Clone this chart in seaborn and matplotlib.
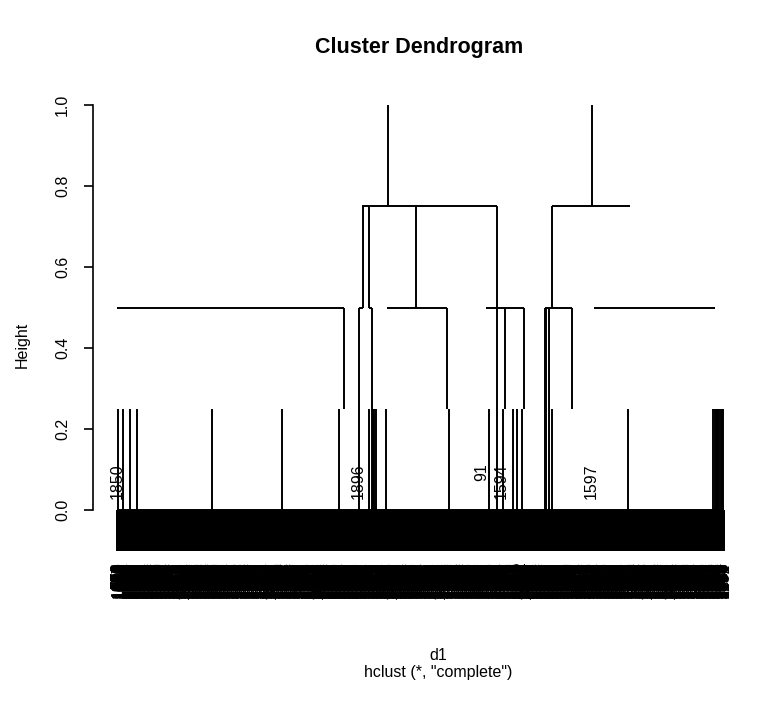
import numpy as np
import pandas as pd
import matplotlib
matplotlib.use("Agg")
import matplotlib.pyplot as plt
import seaborn as sns

# ---- tree data (x = position in leaf order, heights of merges) ----
n_leaves = 2000
hang = 0.1

# stems (vertical links) grouped by the heights they connect
stems_025_to_0 = [5, 20, 44, 66, 313, 545, 731, 832, 844, 849, 854, 886,
                  1095, 1226, 1271, 1304, 1317, 1334, 1435, 1683,
                  1965, 1969, 1973, 1977, 1981, 1985, 1989, 1993, 1996]
stems_05_to_025 = [749, 1087, 1280, 1342, 1498]
stems_05_to_0 = [799, 840, 1410, 1414, 1424]
stems_075_to_0 = [1251]
stems_075_to_05 = [810, 832, 987, 1434]
stems_1_to_075 = [894, 1566]

# cross-bars (horizontal links): left, right, merge height
bar_left = [807, 1435, 2, 799, 832, 891, 1216, 1412, 1572]
bar_right = [1251, 1690, 749, 810, 840, 1087, 1342, 1498, 1970]
bar_height = [0.75, 0.75, 0.5, 0.5, 0.5, 0.5, 0.5, 0.5, 0.5]

# singleton leaves joined at 0.25, labelled inside the plot
single_pos = [3, 795, 1203, 1268, 1564]
single_ids = ["1850", "1896", "91", "1594", "1597"]

y_ticks = [0.0, 0.2, 0.4, 0.6, 0.8, 1.0]
y_tick_labels = ["0.0", "0.2", "0.4", "0.6", "0.8", "1.0"]

title = "Cluster Dendrogram"
x_label = "d1"
sub_label = 'hclust (*, "complete")'

# observation ids in leaf order
leaf_ids = (np.arange(n_leaves) * 769) % n_leaves + 1
for p, s in zip(single_pos, single_ids):
    j = int(np.where(leaf_ids == int(s))[0][0])
    leaf_ids[j], leaf_ids[p - 1] = leaf_ids[p - 1], leaf_ids[j]

stems = pd.DataFrame(
    [(x, 0.25, 0.0) for x in stems_025_to_0]
    + [(x, 0.5, 0.25) for x in stems_05_to_025]
    + [(x, 0.5, 0.0) for x in stems_05_to_0]
    + [(x, 0.75, 0.0) for x in stems_075_to_0]
    + [(x, 0.75, 0.5) for x in stems_075_to_05]
    + [(x, 1.0, 0.75) for x in stems_1_to_075],
    columns=["pos", "top", "bottom"],
)
bars = pd.DataFrame({"left": bar_left, "right": bar_right, "height": bar_height})

# ---- figure ----
sns.set_theme(style="white")
plt.rcParams["font.family"] = ["Liberation Sans", "DejaVu Sans"]
plt.rcParams["text.color"] = "black"
plt.rcParams["ytick.color"] = "black"

W, H = 781, 718
fig = plt.figure(figsize=(W / 100, H / 100), dpi=100)

ax_l, ax_r, ax_t, ax_b = 93, 748, 100, 560
ax = fig.add_axes([ax_l / W, 1 - ax_b / H, (ax_r - ax_l) / W, (ax_b - ax_t) / H])

# leaf 1 sits at 117 px, leaf n at 724 px; height 0 at 510 px, height 1 at 105 px
px_per_leaf = (724 - 117) / (n_leaves - 1)
ax.set_xlim(1 - (117 - ax_l) / px_per_leaf, n_leaves + (ax_r - 724) / px_per_leaf)
px_per_unit = 510 - 105
ax.set_ylim(-(ax_b - 510) / px_per_unit, 1 + (105 - ax_t) / px_per_unit)

lw = 1.4
leaf_pos = np.arange(1, n_leaves + 1)
ax.vlines(leaf_pos, -hang, 0, color="black", lw=lw)
ax.hlines(0, 1, n_leaves, color="black", lw=lw)
ax.vlines(stems["pos"], stems["bottom"], stems["top"], color="black", lw=lw)
ax.hlines(bars["height"], bars["left"], bars["right"], color="black", lw=lw)

for p, s in zip(single_pos, single_ids):
    ax.text(p, 0.116, s, rotation=90, ha="center", va="top", fontsize=11.5,
            color="black")

label_y = -hang - 0.03
for p, s in zip(leaf_pos, leaf_ids):
    if p in single_pos:
        continue
    ax.text(p, label_y, str(s), rotation=90, ha="center", va="top",
            fontsize=11.5, color="black", clip_on=False)

for side in ["top", "right", "bottom"]:
    ax.spines[side].set_visible(False)
ax.spines["left"].set_color("black")
ax.spines["left"].set_linewidth(1.2)
ax.spines["left"].set_bounds(0, 1)
ax.set_xticks([])
ax.set_yticks(y_ticks)
ax.set_yticklabels(y_tick_labels)
ax.tick_params(axis="y", left=True, direction="out", length=6.5, width=1.2,
               labelrotation=90, labelsize=11.5, pad=10, color="black",
               labelcolor="black")
for t in ax.get_yticklabels():
    t.set_va("center")

fig.text(419 / W, 1 - 47 / H, title, ha="center", va="center",
         fontsize=15.5, fontweight="bold", color="black")
fig.text(22 / W, 1 - 345 / H, "Height", rotation=90, ha="center", va="center",
         fontsize=11.5, color="black")
fig.text(438 / W, 1 - 655 / H, x_label, ha="center", va="center", fontsize=11.5,
         color="black")
fig.text(438 / W, 1 - 673 / H, sub_label, ha="center", va="center",
         fontsize=11.5, color="black")

fig.savefig("out.png", dpi=100, facecolor="white")
